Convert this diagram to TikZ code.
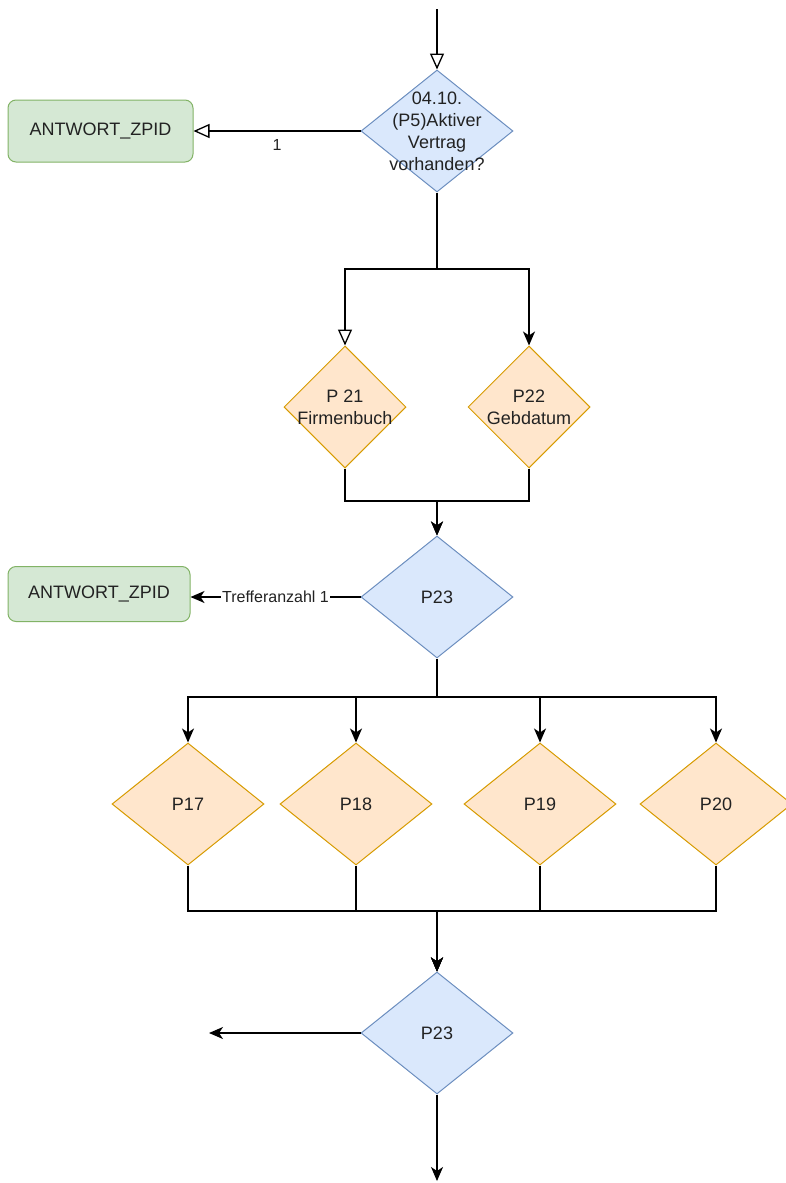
\documentclass[tikz,border=0pt]{standalone}
\usepackage{fontspec}
\setmainfont{Liberation Sans}
\usetikzlibrary{shapes.geometric,arrows.meta}

\definecolor{blaufill}{HTML}{DAE8FC}
\definecolor{blaurand}{HTML}{6C8EBF}
\definecolor{orfill}{HTML}{FFE6CC}
\definecolor{orrand}{HTML}{D79B00}
\definecolor{gruenfill}{HTML}{D5E8D4}
\definecolor{gruenrand}{HTML}{82B366}
\definecolor{schrift}{HTML}{222222}

\tikzset{
  rtext/.style={align=center, text=schrift, font=\fontsize{18}{22}\selectfont},
  raute/.style={diamond, draw, line width=1pt, minimum width=152pt,
    minimum height=122pt, inner sep=0pt, rtext},
  blau/.style={raute, fill=blaufill, draw=blaurand},
  orra/.style={raute, fill=orfill, draw=orrand},
  antwort/.style={rectangle, rounded corners=8pt, draw=gruenrand,
    fill=gruenfill, line width=1pt, rtext},
  lbl/.style={text=schrift, font=\fontsize{16}{18}\selectfont},
  verb/.style={line width=1.3pt},
  offen/.style={verb, -{Triangle[open, length=16pt, width=14pt]}},
  voll/.style={verb, -{Stealth[length=14pt, width=12pt, inset=4pt]}}
}

\begin{document}
\begin{tikzpicture}[x=1pt, y=-1pt]
\useasboundingbox (0,0) rectangle (785,1183);

% Rauten
\node[blau, label={[rtext]center:04.10.\\(P5)Aktiver\\Vertrag\\vorhanden?}] (p5) at (437,131) {};
\node[orra, minimum width=122pt, label={[rtext]center:P 21\\Firmenbuch}] (p21) at (345,407) {};
\node[orra, minimum width=122pt, label={[rtext]center:P22\\Gebdatum}] (p22) at (529,407) {};
\node[blau] (p23a) at (437,597) {P23};
\node[orra] (p17) at (188,804) {P17};
\node[orra] (p18) at (356,804) {P18};
\node[orra] (p19) at (540,804) {P19};
\node[orra] (p20) at (716,804) {P20};
\node[blau] (p23b) at (437,1033) {P23};

% Antworten
\node[antwort, minimum width=185pt, minimum height=62pt] (zpid1) at (100.5,131) {ANTWORT\_ZPID};
\node[antwort, minimum width=182pt, minimum height=55pt] (zpid2) at (99,594) {ANTWORT\_ZPID};

% Knickpunkte und freie Enden
\coordinate (oben) at (437,9);
\coordinate (links) at (209,1033);
\coordinate (unten) at (437,1181);
\coordinate (v1) at (437,269);
\coordinate (v2) at (437,501);
\coordinate (v3) at (437,697);
\coordinate (v4) at (437,911);

% Verbindungen
\draw[offen] (oben) -- (p5.north);
\draw[offen] (p5.west) -- node[lbl, below=5pt] {1} (p5.west -| zpid1.east);
\draw[verb] (p5.south) -- (v1);
\draw[offen] (v1) -| (p21.north);
\draw[voll] (v1) -| (p22.north);
\draw[voll] (p21.south) |- (v2) -- (p23a.north);
\draw[voll] (p22.south) |- (v2) -- (p23a.north);
\draw[voll] (p23a.west) -- node[lbl, fill=white, inner sep=1pt] {Trefferanzahl 1} (p23a.west -| zpid2.east);
\draw[verb] (p23a.south) -- (v3);
\foreach \z in {p17,p18,p19,p20} {
  \draw[voll] (v3) -| (\z.north);
  \draw[voll] (\z.south) |- (v4) -- (p23b.north);
}
\draw[voll] (p23b.west) -- (links);
\draw[voll] (p23b.south) -- (unten);

\end{tikzpicture}
\end{document}
